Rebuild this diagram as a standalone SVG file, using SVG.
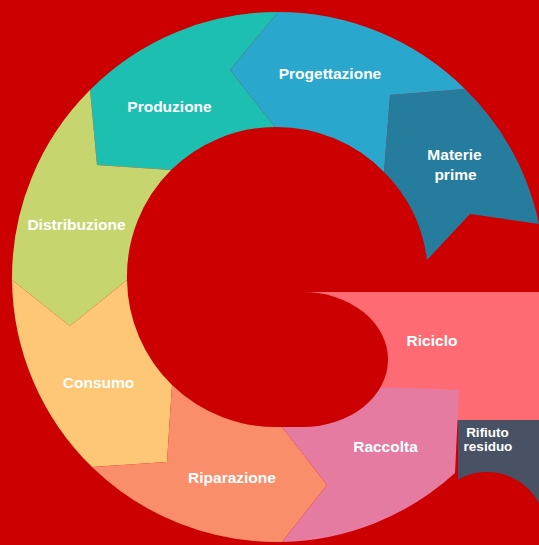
<svg xmlns="http://www.w3.org/2000/svg" width="539" height="545" viewBox="0 0 539 545">
<style>
.lbl{font-family:"Liberation Sans",Arial,sans-serif;font-weight:bold;font-size:15.5px;fill:#ffffff;text-anchor:middle}
.sm{font-size:13.5px}
.bg{fill:#cc0000}
</style>
<rect class="bg" x="0" y="0" width="539" height="545"/>
<g id="materie-prime">
<path fill="#257c9c" d="M390,95 L465,89 A268,268 0 0 1 539,224 L470,214 L427,260 A150,150 0 0 0 384,172 Z"/>
<text class="lbl" x="454.5" y="160">Materie</text>
<text class="lbl" x="455.5" y="180">prime</text>
</g>
<g id="progettazione">
<path fill="#2aa7cd" d="M278,12 A265,265 0 0 1 465,89 L390,95 L384,172 A150,150 0 0 0 275,127 L230,70 Z"/>
<text class="lbl" x="330" y="79">Progettazione</text>
</g>
<g id="produzione">
<path fill="#1dbfb0" d="M90,90 A265,265 0 0 1 278,12 L230,70 L275,127 A150,150 0 0 0 171,170 L97,165 Z"/>
<text class="lbl" x="169.5" y="112">Produzione</text>
</g>
<g id="distribuzione">
<path fill="#c6d56e" d="M12,280 A265,265 0 0 1 90,90 L97,165 L171,170 A150,150 0 0 0 127,280 L70,326 Z"/>
<text class="lbl" x="76.5" y="230">Distribuzione</text>
</g>
<g id="consumo">
<path fill="#fdc776" d="M12,280 L70,326 L127,280 A150,150 0 0 0 172,385 L167,462 L92,467 A265,265 0 0 1 12,280 Z"/>
<text class="lbl" x="98.5" y="388">Consumo</text>
</g>
<g id="riparazione">
<path fill="#fa8e6a" d="M92,467 L167,462 L172,385 A150,150 0 0 0 282,427 L327,485 L282,542 A265,265 0 0 1 92,467 Z"/>
<text class="lbl" x="232" y="483">Riparazione</text>
</g>
<g id="riciclo">
<rect fill="#fe6b73" x="295" y="292" width="244" height="128"/>
<text class="lbl" x="432" y="346">Riciclo</text>
</g>
<g id="raccolta">
<path fill="#e57ba0" d="M282,427 L327,485 L282,542 A265,265 0 0 0 455,473 L459,390 Q380,385 290,390 Z"/>
<text class="lbl" x="385.5" y="452">Raccolta</text>
</g>
<path class="bg" d="M282,292 L303,292 A85,67.5 0 0 1 303,427 L282,427 Z"/>
<g id="rifiuto-residuo">
<rect fill="#485264" x="458" y="420" width="81" height="125"/>
<circle class="bg" cx="487" cy="531" r="59"/>
<text class="lbl sm" x="487.5" y="437">Rifiuto</text>
<text class="lbl sm" x="488" y="451">residuo</text>
</g>
</svg>
